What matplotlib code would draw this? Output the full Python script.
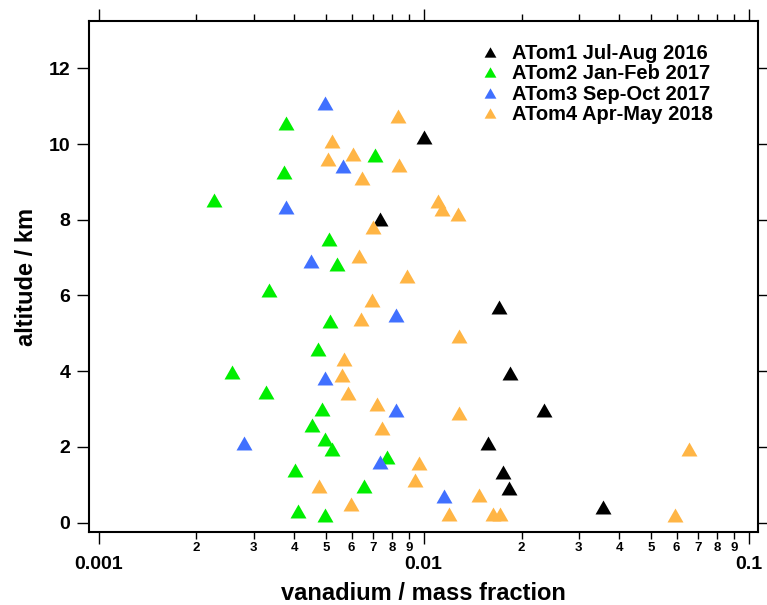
import matplotlib
matplotlib.use("Agg")
import matplotlib.pyplot as plt
from matplotlib.ticker import LogLocator, FuncFormatter, FixedLocator, NullLocator

plt.rcParams['font.family'] = ['Liberation Sans', 'DejaVu Sans']
plt.rcParams['font.weight'] = 'bold'

# vanadium mass fraction (x) and altitude in km (y), per campaign
atom1_x = [0.01005, 0.00732, 0.01709, 0.01839, 0.02339, 0.0158, 0.0175, 0.0183, 0.03553]
atom1_y = [10.18, 8.02, 5.69, 3.95, 2.97, 2.09, 1.34, 0.92, 0.40]

atom2_x = [0.003759, 0.0071, 0.003716, 0.002264, 0.00512, 0.0054, 0.003335, 0.00515, 0.00473, 0.00258,
           0.003264, 0.00488, 0.00452, 0.00498, 0.00524, 0.0077, 0.00403, 0.00657, 0.0041, 0.00498]
atom2_y = [10.55, 9.71, 9.25, 8.51, 7.49, 6.84, 6.13, 5.32, 4.59, 3.97,
           3.46, 3.01, 2.58, 2.20, 1.94, 1.73, 1.38, 0.96, 0.31, 0.20]

atom3_x = [0.00497, 0.00565, 0.00376, 0.00449, 0.0082, 0.00497, 0.00824, 0.002806, 0.00734, 0.01155]
atom3_y = [11.08, 9.43, 8.33, 6.91, 5.48, 3.83, 2.96, 2.09, 1.61, 0.70]

atom4_x = [0.00832, 0.00524, 0.00605, 0.00508, 0.00838, 0.00647, 0.01107, 0.01138, 0.01278, 0.00698,
           0.00634, 0.00891, 0.00692, 0.00641, 0.01284, 0.00567, 0.00559, 0.00585, 0.0072, 0.01287,
           0.00743, 0.00965, 0.00940, 0.00477, 0.00599, 0.01483, 0.01197, 0.01634, 0.01713, 0.0654, 0.0593]
atom4_y = [10.75, 10.09, 9.74, 9.60, 9.45, 9.09, 8.50, 8.28, 8.14, 7.80,
           7.04, 6.52, 5.89, 5.37, 4.92, 4.33, 3.91, 3.41, 3.14, 2.89,
           2.50, 1.56, 1.12, 0.97, 0.49, 0.72, 0.22, 0.22, 0.22, 1.95, 0.21]

labels = ['ATom1 Jul-Aug 2016', 'ATom2 Jan-Feb 2017', 'ATom3 Sep-Oct 2017', 'ATom4 Apr-May 2018']
colors = ['#000000', '#00ee00', '#4070ff', '#ffb545']

# slightly flattened triangle like the Igor marker
tri = [(-1, -0.875), (1, -0.875), (0, 0.875)]

fig = plt.figure(figsize=(7.67, 6.05), dpi=100)
ax = fig.add_axes([0.116, 0.1207, 0.8719, 0.8446])

series = [(atom1_x, atom1_y), (atom2_x, atom2_y), (atom3_x, atom3_y), (atom4_x, atom4_y)]
for (xs, ys), lab, c in zip(series, labels, colors):
    ax.plot(xs, ys, linestyle='none', marker=tri, markersize=11.5,
            markeredgewidth=0, color=c, label=lab)

ax.set_xscale('log')
ax.set_xlim(0.000934, 0.1066)
ax.set_ylim(-0.25, 13.25)

ax.xaxis.set_major_locator(LogLocator(base=10))
ax.xaxis.set_minor_locator(LogLocator(base=10, subs=range(2, 10)))
ax.xaxis.set_major_formatter(FuncFormatter(lambda v, p: '%g' % v))
ax.xaxis.set_minor_formatter(FuncFormatter(lambda v, p: '%d' % round(v / 10 ** int(f'{v:e}'.split('e')[1]))))
ax.yaxis.set_major_locator(FixedLocator([0, 2, 4, 6, 8, 10, 12]))
ax.yaxis.set_minor_locator(NullLocator())

for s in ax.spines.values():
    s.set_linewidth(1.5)

ax.tick_params(which='both', direction='out', top=True, right=True, width=1.0)
ax.tick_params(which='major', length=8.5)
ax.tick_params(which='minor', length=5)
ax.tick_params(axis='x', which='major', labelsize=14, pad=8.5)
ax.tick_params(axis='x', which='minor', labelsize=9.5, pad=2.4)
ax.tick_params(axis='y', which='major', labelsize=14, pad=4.8)

ax.set_xlabel('vanadium / mass fraction', fontsize=17, fontweight='bold', labelpad=7)
ax.set_ylabel('altitude / km', fontsize=17, fontweight='bold', labelpad=8)

ax.legend(loc='upper left', bbox_to_anchor=(0.5847, 0.955), frameon=False,
          fontsize=14.5, markerscale=0.74, handlelength=1.0, handletextpad=0.6,
          labelspacing=0.07, borderpad=0, borderaxespad=0)

fig.savefig('out.png', dpi=100)
